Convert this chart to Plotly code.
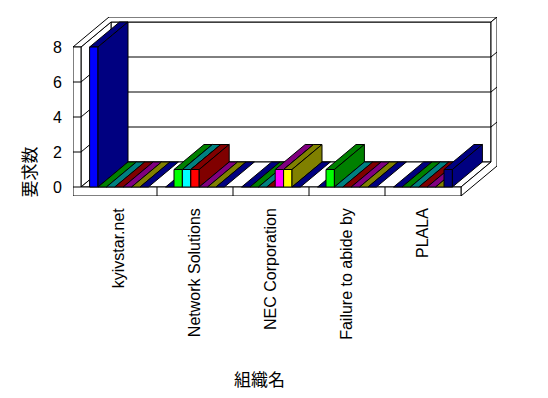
import plotly.graph_objects as go

# ---------------- data ----------------
categories = ["kyivstar.net", "Network Solutions", "NEC Corporation",
              "Failure to abide by", "PLALA"]
series_names = ["系列1", "系列2", "系列3", "系列4", "系列5", "系列6", "系列7"]
series_1 = [8, 0, 0, 0, 0]
series_2 = [0, 1, 0, 1, 0]
series_3 = [0, 1, 0, 0, 0]
series_4 = [0, 1, 0, 0, 0]
series_5 = [0, 0, 1, 0, 0]
series_6 = [0, 0, 1, 0, 0]
series_7 = [0, 0, 0, 0, 1]
y_tick_values = [0, 2, 4, 6, 8]
y_title = "要求数"
x_title = "組織名"

# ---------------- styles ----------------
front_colors = ["#0000FF", "#00FF00", "#00FFFF", "#FF0000", "#FF00FF", "#FFFF00", "#000080"]
shade_colors = ["#000080", "#008000", "#008080", "#800000", "#800080", "#808000", "#000080"]

series = [series_1, series_2, series_3, series_4, series_5, series_6, series_7]
N_CAT = len(categories)
N_SER = len(series)

# geometry (pixel scale of the pseudo-3D projection)
CAT_PX = 76.0      # px per category
UNIT_PX = 17.5     # px per value unit
DX = 30.0 / CAT_PX     # depth shift in x (category units)
DY = 25.0 / UNIT_PX    # depth shift in y (value units)
WALL_T = 8.0 / CAT_PX
FLOOR_T = 9.0 / UNIT_PX
BACK_T = 0.2
BAR_W = 8.4 / CAT_PX
GAP = (1 - N_SER * BAR_W) / 2
Y_TOP = max(y_tick_values)

X_MIN = -WALL_T
X_MAX = N_CAT + (1 + BACK_T) * DX
Y_MIN = -FLOOR_T
Y_MAX = Y_TOP + (1 + BACK_T) * DY

W, H = 548, 398
ML, MT = 73, 17
PW = (X_MAX - X_MIN) * CAT_PX
PH = (Y_MAX - Y_MIN) * UNIT_PX
MR = W - ML - PW
MB = H - MT - PH

fig = go.Figure()


def P(X, Z, Y):
    return X + Z * DX, Y + Z * DY


def face(pts, fill):
    xs, ys = [], []
    for (X, Z, Y) in pts:
        a, b = P(X, Z, Y)
        xs.append(a)
        ys.append(b)
    xs.append(xs[0])
    ys.append(ys[0])
    fig.add_trace(go.Scatter(x=xs, y=ys, mode="lines", fill="toself",
                             fillcolor=fill, line=dict(color="black", width=1),
                             hoverinfo="skip", showlegend=False))


def seg(p, q):
    a = P(*p)
    b = P(*q)
    fig.add_trace(go.Scatter(x=[a[0], b[0]], y=[a[1], b[1]], mode="lines",
                             line=dict(color="black", width=1),
                             hoverinfo="skip", showlegend=False))


# back wall front face
face([(0, 1, 0), (N_CAT, 1, 0), (N_CAT, 1, Y_TOP), (0, 1, Y_TOP)], "white")
for v in y_tick_values[1:-1]:
    seg((0, 1, v), (N_CAT, 1, v))
# left wall inner face
face([(0, 0, 0), (0, 1, 0), (0, 1, Y_TOP), (0, 0, Y_TOP)], "white")
for v in y_tick_values[1:-1]:
    seg((0, 0, v), (0, 1, v))
# floor top
face([(0, 0, 0), (N_CAT, 0, 0), (N_CAT, 1, 0), (0, 1, 0)], "white")
# top surface of walls
face([(-WALL_T, 0, Y_TOP), (0, 0, Y_TOP), (0, 1, Y_TOP), (N_CAT, 1, Y_TOP),
      (N_CAT, 1 + BACK_T, Y_TOP), (-WALL_T, 1 + BACK_T, Y_TOP)], "white")
# right side face
face([(N_CAT, 0, 0), (N_CAT, 0, -FLOOR_T), (N_CAT, 1 + BACK_T, -FLOOR_T),
      (N_CAT, 1 + BACK_T, Y_TOP), (N_CAT, 1, Y_TOP), (N_CAT, 1, 0)], "white")
for v in y_tick_values[1:-1]:
    seg((N_CAT, 1, v), (N_CAT, 1 + BACK_T, v))
# front face (left wall + floor slab)
face([(-WALL_T, 0, -FLOOR_T), (N_CAT, 0, -FLOOR_T), (N_CAT, 0, 0), (0, 0, 0),
      (0, 0, Y_TOP), (-WALL_T, 0, Y_TOP)], "white")
for v in y_tick_values[:-1]:
    seg((-WALL_T, 0, v), (0, 0, v))
for i in range(1, N_CAT):
    seg((i, 0, -FLOOR_T), (i, 0, 0))

# bars, drawn left to right
for i in range(N_CAT):
    for s in range(N_SER):
        v = series[s][i]
        x0 = i + GAP + s * BAR_W
        x1 = x0 + BAR_W
        # top
        face([(x0, 0, v), (x1, 0, v), (x1, 1, v), (x0, 1, v)], shade_colors[s])
        if v > 0:
            face([(x0, 0, 0), (x1, 0, 0), (x1, 0, v), (x0, 0, v)], front_colors[s])
            face([(x1, 0, 0), (x1, 1, 0), (x1, 1, v), (x1, 0, v)], shade_colors[s])

font_latin = "Liberation Sans, Arial, sans-serif"
font_cjk = "Noto Sans CJK JP, sans-serif"

fig.update_layout(
    width=W, height=H,
    margin=dict(l=ML, r=MR, t=MT, b=MB, pad=0, autoexpand=False),
    paper_bgcolor="white", plot_bgcolor="white",
    showlegend=False,
    font=dict(family=font_latin, size=16, color="black"),
    xaxis=dict(range=[X_MIN, X_MAX], showgrid=False, zeroline=False, showline=False,
               tickmode="array", tickvals=[i + 0.5 for i in range(N_CAT)],
               ticktext=categories, tickangle=-90, ticks="",
               ticklabelstandoff=8, fixedrange=True, automargin=False),
    yaxis=dict(range=[Y_MIN, Y_MAX], showgrid=False, zeroline=False, showline=False,
               tickmode="array", tickvals=y_tick_values, ticks="",
               ticklabelstandoff=10, fixedrange=True, automargin=False),
    annotations=[
        dict(text=y_title, textangle=-90, showarrow=False,
             xref="paper", yref="paper",
             x=(28 - ML) / PW, y=(MT + PH - 172.5) / PH,
             xanchor="center", yanchor="middle",
             font=dict(family=font_cjk, size=17, color="black")),
        dict(text=x_title, showarrow=False,
             xref="paper", yref="paper",
             x=(259 - ML) / PW, y=(MT + PH - 378) / PH,
             xanchor="center", yanchor="middle",
             font=dict(family=font_cjk, size=17, color="black")),
    ],
)

fig.write_html("out.html")
